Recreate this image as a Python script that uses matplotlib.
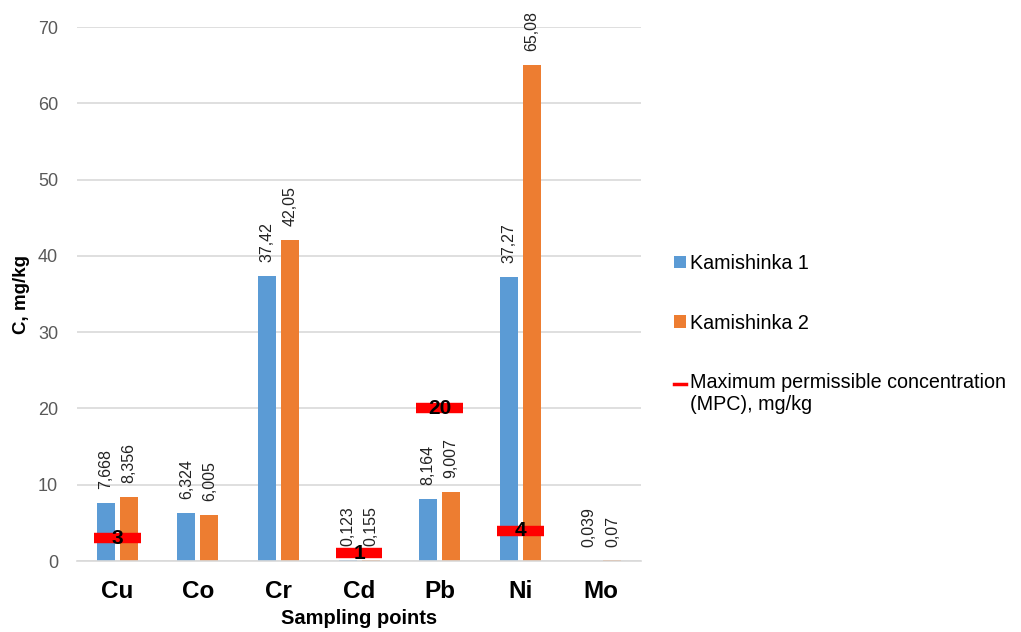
import matplotlib
matplotlib.use("Agg")
import matplotlib.pyplot as plt
from matplotlib.lines import Line2D
from matplotlib.patches import Patch
from matplotlib.legend_handler import HandlerLine2D
import numpy as np

plt.rcParams['font.family'] = ['Liberation Sans', 'DejaVu Sans']

elements = ["Cu", "Co", "Cr", "Cd", "Pb", "Ni", "Mo"]
kamishinka1 = [7.668, 6.324, 37.42, 0.123, 8.164, 37.27, 0.039]
kamishinka2 = [8.356, 6.005, 42.05, 0.155, 9.007, 65.08, 0.07]
labels1 = ["7,668", "6,324", "37,42", "0,123", "8,164", "37,27", "0,039"]
labels2 = ["8,356", "6,005", "42,05", "0,155", "9,007", "65,08", "0,07"]
mpc = [3, None, None, 1, 20, 4, None]

blue = "#5B9BD5"
orange = "#ED7D31"


class FirstLineHandler(HandlerLine2D):
    """Legend line raised to sit beside the first row of a two-line label."""

    def create_artists(self, legend, orig_handle, xdescent, ydescent,
                       width, height, fontsize, trans):
        artists = super().create_artists(legend, orig_handle, xdescent, ydescent,
                                         width, height, fontsize, trans)
        for a in artists:
            a.set_ydata([v + 0.55 * fontsize for v in a.get_ydata()])
        return artists


fig = plt.figure(figsize=(10.21, 6.32), dpi=100)
ax = fig.add_axes([0.0754, 0.1123, 0.5526, 0.8447])

x = np.arange(len(elements))
w = 0.222
off = 0.143
ax.bar(x - off, kamishinka1, w, color=blue, zorder=2)
ax.bar(x + off, kamishinka2, w, color=orange, zorder=2)

for xi, v, s in zip(x - off, kamishinka1, labels1):
    ax.annotate(s, (xi, v), xytext=(0, 10), textcoords="offset points",
                rotation=90, ha="center", va="bottom", fontsize=11.5, color="#222222")
for xi, v, s in zip(x + off, kamishinka2, labels2):
    ax.annotate(s, (xi, v), xytext=(0, 10), textcoords="offset points",
                rotation=90, ha="center", va="bottom", fontsize=11.5, color="#222222")

for xi, m in zip(x, mpc):
    if m is None:
        continue
    ax.hlines(m, xi - 0.29, xi + 0.29, color="#FF0000", linewidth=7.5, zorder=3)
    ax.text(xi, m, str(m), ha="center", va="center", fontsize=15,
            fontweight="bold", color="black", zorder=4)

ax.set_xlim(-0.5, len(elements) - 0.5)
ax.set_ylim(0, 70)
ax.set_yticks(np.arange(0, 71, 10))
ax.set_xticks(x)
ax.set_xticklabels(elements, fontsize=17.5, fontweight="bold")
ax.tick_params(axis="x", length=0, pad=14)
ax.tick_params(axis="y", length=0, pad=13.5, labelsize=13, labelcolor="#595959")
ax.grid(axis="y", color="#D9D9D9", linewidth=1.2, zorder=0)
ax.set_axisbelow(True)
for sp in ["top", "right", "left"]:
    ax.spines[sp].set_visible(False)
ax.spines["bottom"].set_color("#D9D9D9")
ax.spines["bottom"].set_linewidth(1.2)

ax.set_ylabel("C, mg/kg", fontsize=13.5, fontweight="bold", labelpad=6)
ax.set_xlabel("Sampling points", fontsize=14.5, fontweight="bold", labelpad=4)

mpc_handle = Line2D([0], [0], color="#FF0000", linewidth=2.5,
                    label="Maximum permissible concentration\n(MPC), mg/kg")
handles = [
    Patch(facecolor=blue, label="Kamishinka 1"),
    Patch(facecolor=orange, label="Kamishinka 2"),
    mpc_handle,
]
fig.legend(handles=handles, loc="upper left", bbox_to_anchor=(0.643, 0.626),
           frameon=False, fontsize=14.2, handlelength=0.6, handleheight=0.6,
           handletextpad=0.2, labelspacing=2.05,
           handler_map={mpc_handle: FirstLineHandler()})

fig.savefig("out.png", dpi=100)
